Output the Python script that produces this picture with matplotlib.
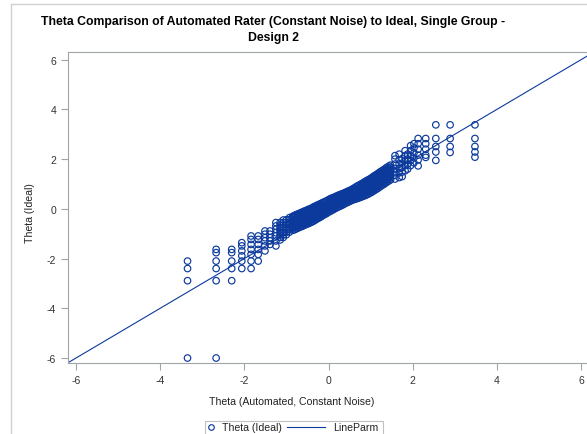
import matplotlib
matplotlib.use('Agg')
import matplotlib.pyplot as plt
from matplotlib.patches import Rectangle
from matplotlib.lines import Line2D

plt.rcParams['font.family'] = ['Liberation Sans', 'DejaVu Sans']
plt.rcParams['axes.unicode_minus'] = False

# columns of (automated theta, ideal thetas)
col_x = [-3.35, -2.67, -2.30, -2.06, -1.84, -1.67, -1.51, -1.39, -1.25,
         -1.15, -1.075, -1.0, -0.925, -0.85, -0.775, -0.70, -0.625, -0.55,
         -0.475, -0.40, -0.325, -0.25, -0.175, -0.10, -0.025, 0.05, 0.125,
         0.20, 0.275, 0.35, 0.425, 0.50, 0.575, 0.65, 0.725, 0.80, 0.875,
         0.95, 1.025, 1.10, 1.175, 1.25, 1.325, 1.40, 1.475,
         1.58, 1.68, 1.75, 1.82, 1.88, 1.95, 2.03, 2.13, 2.31, 2.55, 2.89, 3.48]
col_y = [
    [-2.10, -2.40, -2.89, -6.00],
    [-1.63, -1.76, -2.10, -2.40, -2.89, -6.00],
    [-1.63, -1.76, -2.10, -2.40, -2.89],
    [-1.36, -1.49, -1.69, -1.89, -2.10, -2.40],
    [-1.09, -1.23, -1.43, -1.63, -1.83, -2.10, -2.40],
    [-1.09, -1.23, -1.43, -1.63, -1.83, -2.10],
    [-0.89, -1.02, -1.16, -1.29, -1.49, -1.69],
    [-0.89, -1.02, -1.16, -1.29, -1.43],
    [-0.55, -0.69, -0.82, -0.96, -1.09, -1.29, -1.49],
    [-1.25, -1.15, -1.05, -0.95, -0.85, -0.75, -0.65, -0.55],
    [-1.15, -1.05, -0.95, -0.85, -0.75, -0.65, -0.55, -0.45],
    [-1.04, -0.94, -0.84, -0.74, -0.64, -0.54, -0.44],
    [-0.93, -0.83, -0.73, -0.63, -0.53, -0.43, -0.35],
    [-0.86, -0.76, -0.66, -0.56, -0.46, -0.36, -0.30],
    [-0.81, -0.71, -0.61, -0.51, -0.41, -0.31, -0.24],
    [-0.75, -0.65, -0.55, -0.45, -0.35, -0.25, -0.19],
    [-0.70, -0.60, -0.50, -0.40, -0.30, -0.20, -0.13],
    [-0.64, -0.54, -0.44, -0.34, -0.24, -0.14, -0.08],
    [-0.59, -0.49, -0.39, -0.29, -0.19, -0.09, -0.02],
    [-0.53, -0.43, -0.33, -0.23, -0.13, -0.03, 0.03],
    [-0.46, -0.36, -0.26, -0.16, -0.06, 0.04, 0.10],
    [-0.38, -0.28, -0.18, -0.08, 0.02, 0.10, 0.16],
    [-0.31, -0.21, -0.11, -0.01, 0.09, 0.17, 0.22],
    [-0.23, -0.13, -0.03, 0.07, 0.17, 0.28],
    [-0.16, -0.06, 0.04, 0.14, 0.24, 0.34],
    [-0.09, 0.01, 0.11, 0.21, 0.31, 0.41],
    [-0.02, 0.08, 0.18, 0.28, 0.38, 0.46],
    [0.05, 0.15, 0.25, 0.35, 0.45, 0.52],
    [0.11, 0.21, 0.31, 0.41, 0.50, 0.57],
    [0.17, 0.27, 0.37, 0.47, 0.55, 0.62],
    [0.24, 0.34, 0.44, 0.54, 0.62, 0.68],
    [0.30, 0.40, 0.50, 0.60, 0.68, 0.73],
    [0.36, 0.46, 0.56, 0.66, 0.74, 0.80],
    [0.40, 0.50, 0.60, 0.70, 0.80, 0.88],
    [0.44, 0.54, 0.64, 0.74, 0.84, 0.95],
    [0.49, 0.59, 0.69, 0.79, 0.89, 0.96, 1.02],
    [0.54, 0.64, 0.74, 0.84, 0.94, 1.02, 1.10],
    [0.60, 0.70, 0.80, 0.90, 1.00, 1.08, 1.17],
    [0.67, 0.77, 0.87, 0.97, 1.07, 1.16, 1.25],
    [0.75, 0.85, 0.95, 1.05, 1.15, 1.25, 1.34],
    [0.83, 0.93, 1.03, 1.13, 1.23, 1.33, 1.42],
    [0.92, 1.02, 1.12, 1.22, 1.32, 1.42, 1.51],
    [1.00, 1.10, 1.20, 1.30, 1.40, 1.50, 1.59],
    [1.09, 1.19, 1.29, 1.39, 1.49, 1.59, 1.68],
    [1.17, 1.27, 1.37, 1.47, 1.57, 1.67, 1.76],
    [1.20, 1.35, 1.50, 1.62, 1.80, 2.00, 2.14],
    [1.26, 1.45, 1.62, 1.80, 1.97, 2.20],
    [1.30, 1.48, 1.66, 1.84, 2.02],
    [1.53, 1.74, 1.94, 2.14, 2.34],
    [1.60, 1.80, 2.00, 2.20],
    [1.74, 1.94, 2.14, 2.34, 2.54],
    [1.85, 2.05, 2.25, 2.45, 2.62],
    [1.73, 1.97, 2.16, 2.40, 2.62, 2.83],
    [2.07, 2.16, 2.40, 2.62, 2.83],
    [1.95, 2.29, 2.51, 2.83, 3.38],
    [2.27, 2.51, 2.83, 3.38],
    [2.08, 2.29, 2.51, 2.83, 3.38],
]

# extra columns inside the dense middle band
mid_x = [-0.8125, -0.7375, -0.6625, -0.5875, -0.5125, -0.4375, -0.3625,
         -0.2875, -0.2125, -0.1375, -0.0625, 0.0125, 0.0875, 0.1625, 0.2375,
         0.3125, 0.3875, 0.4625, 0.5375, 0.6125, 0.6875, 0.7625, 0.8375,
         0.9125, 0.9875, 1.0625, 1.1375, 1.2125, 1.2875, 1.3625, 1.4375]
mid_y = [
    [-0.84, -0.74, -0.64, -0.54, -0.44, -0.34, -0.27],
    [-0.78, -0.68, -0.58, -0.48, -0.38, -0.28, -0.21],
    [-0.72, -0.62, -0.52, -0.42, -0.32, -0.22, -0.16],
    [-0.67, -0.57, -0.47, -0.37, -0.27, -0.17, -0.10],
    [-0.61, -0.51, -0.41, -0.31, -0.21, -0.11, -0.05],
    [-0.56, -0.46, -0.36, -0.26, -0.16, -0.06, 0.00],
    [-0.50, -0.40, -0.30, -0.20, -0.10, 0.00, 0.07],
    [-0.42, -0.32, -0.22, -0.12, -0.02, 0.07, 0.13],
    [-0.35, -0.25, -0.15, -0.05, 0.05, 0.13, 0.19],
    [-0.27, -0.17, -0.07, 0.03, 0.13, 0.25],
    [-0.20, -0.10, 0.00, 0.10, 0.20, 0.31],
    [-0.12, -0.02, 0.08, 0.18, 0.28, 0.38],
    [-0.05, 0.05, 0.15, 0.25, 0.35, 0.44],
    [0.02, 0.12, 0.22, 0.32, 0.42, 0.49],
    [0.08, 0.18, 0.28, 0.38, 0.47, 0.55],
    [0.14, 0.24, 0.34, 0.44, 0.52, 0.60],
    [0.21, 0.31, 0.41, 0.51, 0.58, 0.65],
    [0.27, 0.37, 0.47, 0.57, 0.65, 0.71],
    [0.33, 0.43, 0.53, 0.63, 0.71, 0.77],
    [0.38, 0.48, 0.58, 0.68, 0.77, 0.84],
    [0.42, 0.52, 0.62, 0.72, 0.82, 0.92],
    [0.47, 0.57, 0.67, 0.77, 0.87, 0.99],
    [0.52, 0.62, 0.72, 0.82, 0.92, 0.99, 1.06],
    [0.57, 0.67, 0.77, 0.87, 0.97, 1.05, 1.14],
    [0.64, 0.74, 0.84, 0.94, 1.04, 1.12, 1.21],
    [0.71, 0.81, 0.91, 1.01, 1.11, 1.21, 1.30],
    [0.79, 0.89, 0.99, 1.09, 1.19, 1.29, 1.38],
    [0.88, 0.98, 1.08, 1.18, 1.28, 1.38, 1.47],
    [0.96, 1.06, 1.16, 1.26, 1.36, 1.46, 1.55],
    [1.05, 1.15, 1.25, 1.35, 1.45, 1.55, 1.64],
    [1.13, 1.23, 1.33, 1.43, 1.53, 1.63, 1.72],
]

line_intercept = 0.0
line_slope = 1.0

ticks = [-6, -4, -2, 0, 2, 4, 6]

xs = []
ys = []
for cx, cy in zip(col_x + mid_x, col_y + mid_y):
    for v in cy:
        xs.append(cx)
        ys.append(v)

blue = '#0b3a9c'
grey = '#a0a4a8'
W, H = 587, 435

fig = plt.figure(figsize=(5.87, 4.35), dpi=100)
ax = fig.add_axes([68 / W, 71 / H, 521 / W, 311 / H])

ax.scatter(xs, ys, s=22, facecolors='none', edgecolors=blue, linewidths=0.85,
           zorder=3)
ax.axline((0, line_intercept), slope=line_slope, color=blue, lw=0.8, zorder=2)

ax.set_xlim(-6.19, 6.19)
ax.set_ylim(-6.2, 6.31)
ax.set_xticks(ticks)
ax.set_yticks(ticks)
for s in ax.spines.values():
    s.set_color(grey)
    s.set_linewidth(0.8)
ax.tick_params(colors=grey, labelcolor='#333333', labelsize=7.5, length=5,
               width=0.8)

ax.set_xlabel('Theta (Automated, Constant Noise)', fontsize=7.6, color='#222222')
ax.xaxis.set_label_coords((291.7 - 68) / 521, (364 - 402) / 311)
ax.xaxis.label.set_va('center')
ax.set_ylabel('Theta (Ideal)', fontsize=7.6, color='#222222')
ax.yaxis.set_label_coords((30 - 68) / 521, (364 - 213) / 311)
ax.yaxis.label.set_va('center')

fig.text(273 / W, 1 - 22 / H,
         'Theta Comparison of Automated Rater (Constant Noise) to Ideal, Single Group -',
         ha='center', va='center', fontsize=8.8, fontweight='bold')
fig.text(273 / W, 1 - 38 / H, 'Design 2', ha='center', va='center',
         fontsize=8.8, fontweight='bold')

# outer frame of the graph
fig.add_artist(Line2D([11 / W, 11 / W], [0, 1 - 5 / H],
                      transform=fig.transFigure, color='#d0d0d0', lw=1))
fig.add_artist(Line2D([11 / W, 1], [1 - 5 / H, 1 - 5 / H],
                      transform=fig.transFigure, color='#d0d0d0', lw=1))

# legend box at the bottom, cut by the image edge
ly = 1 - 428 / H
fig.add_artist(Rectangle((205 / W, -0.05), 178 / W, 0.05 + 1 - 422 / H,
                         transform=fig.transFigure, fill=False,
                         edgecolor='#c0c0c0', lw=0.8))
fig.add_artist(Line2D([211 / W], [ly], transform=fig.transFigure, marker='o',
                      markersize=4, markerfacecolor='none',
                      markeredgecolor=blue, markeredgewidth=0.85, ls='none'))
fig.text(222 / W, ly, 'Theta (Ideal)', ha='left', va='center', fontsize=7.6,
         color='#222222')
fig.add_artist(Line2D([287 / W, 325 / W], [ly, ly], transform=fig.transFigure,
                      color=blue, lw=0.8))
fig.text(333 / W, ly, 'LineParm', ha='left', va='center', fontsize=7.6,
         color='#222222')

fig.savefig('out.png', dpi=100)
